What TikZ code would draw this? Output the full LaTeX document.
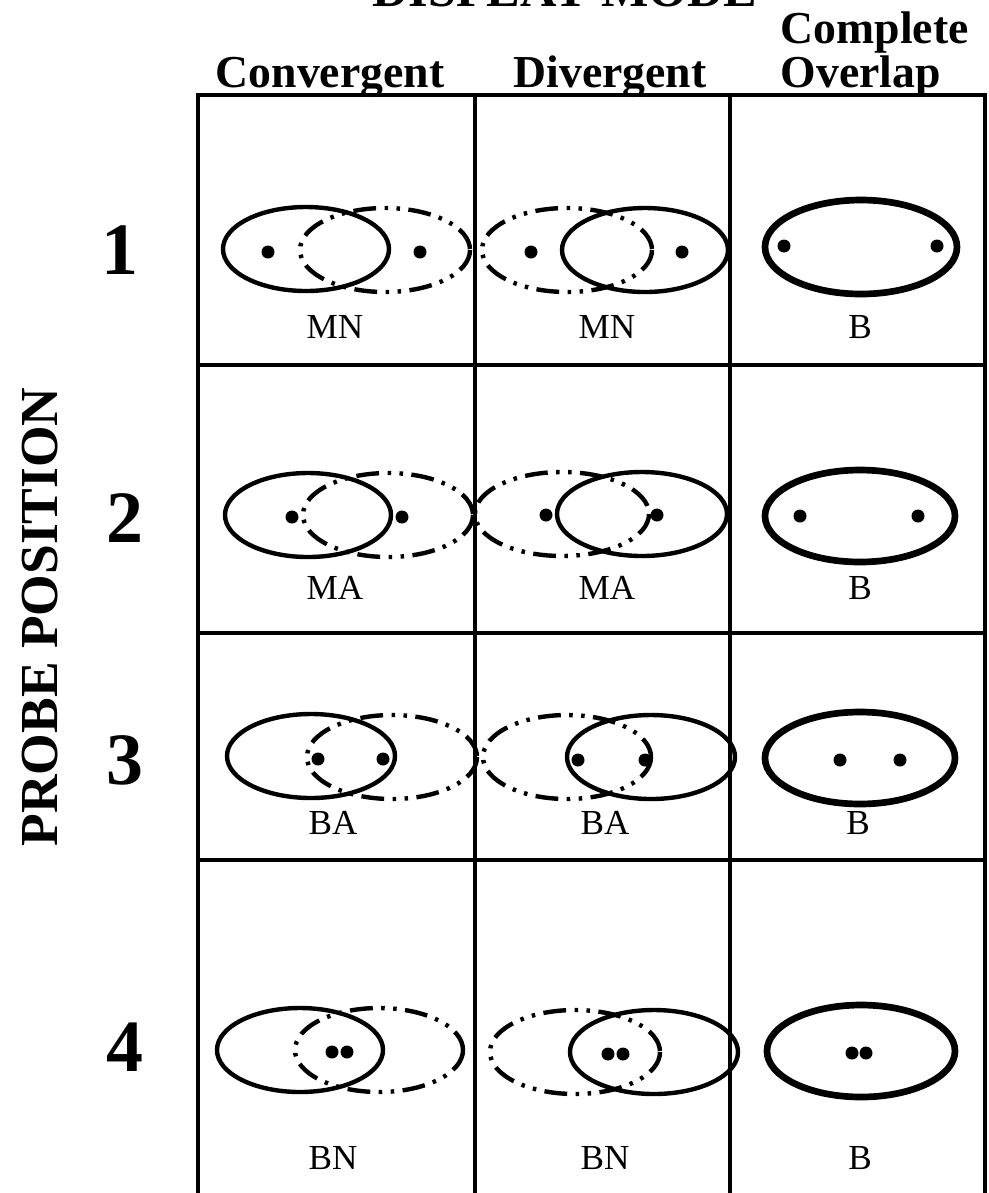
\documentclass[tikz,border=0pt]{standalone}
\usepackage{fontspec}
\setmainfont{Liberation Serif}
\usetikzlibrary{positioning}
\begin{document}
\begin{tikzpicture}[x=0.01cm,y=-0.01cm,
  rule/.style={line width=0.9pt},
  ring/.style={line width=1.25pt},
  ringdd/.style={ring,dash pattern=on 6.5pt off 2.4pt on 1pt off 2.4pt on 1pt off 2.4pt},
  ringfull/.style={line width=1.9pt},
  hdr/.style={font=\bfseries\fontsize{13}{15}\selectfont,inner sep=0pt},
  num/.style={font=\bfseries\fontsize{21}{24}\selectfont,inner sep=0pt},
  cls/.style={font=\fontsize{10}{12}\selectfont,inner sep=0pt}]
\useasboundingbox (0,0) rectangle (989,1193);
\clip (0,0) rectangle (989,1193);
% headings
\node[hdr,font=\bfseries\fontsize{14.3}{16}\selectfont,anchor=base] (ttl) at (565,6) {DISPLAY MODE};
\node[hdr,anchor=base] (hconv) at (330,87) {Convergent};
\node[hdr,anchor=base] (hdiv)  at (610,87) {Divergent};
\node[hdr,anchor=base west] (hover) at (780,87) {Overlap};
\node[hdr,anchor=base west] (hcomp) at (780,43) {Complete};
\node[hdr,font=\bfseries\fontsize{15.2}{17}\selectfont,rotate=90] (ylab) at (40,617) {PROBE POSITION};
% grid
\draw[rule] (198,1193) -- (198,95) -- (985,95) -- (985,1193);
\draw[rule] (475,95) -- (475,1193);
\draw[rule] (730,95) -- (730,1193);
\draw[rule] (198,365) -- (985,365);
\draw[rule] (198,633) -- (985,633);
\draw[rule] (198,860) -- (985,860);
% row numbers
\node[num] (r1) at (120,250) {1};
\node[num] (r2) at (125,518) {2};
\node[num] (r3) at (125,760) {3};
\node[num] (r4) at (125,1047) {4};
% row 1
\draw[ring]   (306,249) ellipse [x radius=83,y radius=42];
\draw[ringdd] (385,250) ellipse [x radius=85,y radius=42];
\draw[ringdd] (567,250) ellipse [x radius=85,y radius=42];
\draw[ring]   (645,250) ellipse [x radius=83,y radius=42];
\draw[ringfull] (861,247) ellipse [x radius=96,y radius=47];
\foreach \p in {(268,252),(420,252),(531,252),(682,252),(784,246),(937,246)}
  \fill \p circle [radius=6.5];
% row 2
\draw[ring]   (308,515) ellipse [x radius=83,y radius=42];
\draw[ringdd] (388,515) ellipse [x radius=85,y radius=42];
\draw[ringdd] (562,514) ellipse [x radius=87,y radius=42];
\draw[ring]   (642,514) ellipse [x radius=85,y radius=42];
\draw[ringfull] (860,516) ellipse [x radius=95,y radius=46];
\foreach \p in {(292,517),(402,517),(546,515),(657,515),(800,516),(918,516)}
  \fill \p circle [radius=6.5];
% row 3
\draw[ring]   (311,756) ellipse [x radius=84,y radius=42];
\draw[ringdd] (392,757) ellipse [x radius=85,y radius=42];
\draw[ringdd] (567,757) ellipse [x radius=84,y radius=42];
\draw[ring]   (651,757) ellipse [x radius=84,y radius=42];
\draw[ringfull] (860,758) ellipse [x radius=95,y radius=46];
\foreach \p in {(318,759),(383,759),(578,760),(645,760),(840,760),(900,760)}
  \fill \p circle [radius=6.5];
% row 4
\draw[ring]   (300,1050) ellipse [x radius=83,y radius=42];
\draw[ringdd] (379,1050) ellipse [x radius=84,y radius=42];
\draw[ringdd] (575,1052) ellipse [x radius=85,y radius=42];
\draw[ring]   (654,1052) ellipse [x radius=84,y radius=42];
\draw[ringfull] (861,1051) ellipse [x radius=94,y radius=46];
\foreach \p in {(332,1052),(347,1052),(608,1054),(623,1054),(852,1053),(866,1053)}
  \fill \p circle [radius=6.5];
% class labels
\node[cls] (c11) at (335,327) {MN};  \node[cls] (c12) at (607,327) {MN};  \node[cls] (c13) at (860,327) {B};
\node[cls] (c21) at (335,588) {MA};  \node[cls] (c22) at (607,588) {MA};  \node[cls] (c23) at (860,588) {B};
\node[cls] (c31) at (333,823) {BA};  \node[cls] (c32) at (605,823) {BA};  \node[cls] (c33) at (858,823) {B};
\node[cls] (c41) at (333,1158) {BN}; \node[cls] (c42) at (605,1158) {BN}; \node[cls] (c43) at (860,1158) {B};
\end{tikzpicture}
\end{document}
